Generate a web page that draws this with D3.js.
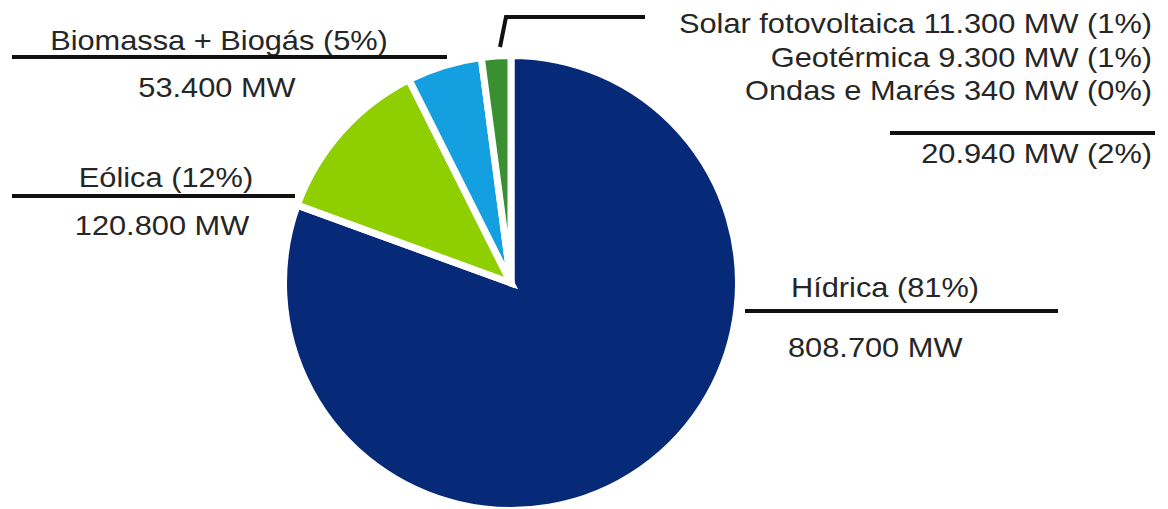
<!DOCTYPE html>
<html lang="pt">
<head>
<meta charset="utf-8">
<title>Capacidade instalada de energias renováveis</title>
<script src="https://cdn.jsdelivr.net/npm/d3@7"></script>
<style>
  html, body { margin: 0; padding: 0; background: #ffffff; }
  svg { display: block; }
  text { font-family: "Liberation Sans", Arial, Helvetica, sans-serif; fill: #262626; }
</style>
</head>
<body>
<svg id="chart" width="1168" height="509"></svg>
<script>
// Fontes renováveis: capacidade instalada (MW)
const categories = ["Hídrica", "Eólica", "Biomassa + Biogás", "Outras"];
const capacityMW = [808700, 120800, 53400, 20940];
const sliceColors = ["#072a78", "#8fcf00", "#139fe0", "#3a8f30"];

// Desagregação da fatia "Outras"
const otherSources = ["Solar fotovoltaica", "Geotérmica", "Ondas e Marés"];
const otherMW = [11300, 9300, 340];

const ptBR = d3.formatLocale({ decimal: ",", thousands: ".", grouping: [3], currency: ["", ""] });
const fmtMW = v => ptBR.format(",d")(v) + " MW";
const total = d3.sum(capacityMW);
const pct = v => "(" + Math.round(v / total * 100) + "%)";

const svg = d3.select("#chart");
const W = 1168, H = 509;
svg.append("rect").attr("width", W).attr("height", H).attr("fill", "#fff");

// Pizza
const cx = 511, cy = 283, radius = 227.5;
const pie = d3.pie().sort(null).value(d => d.value);
const arc = d3.arc().innerRadius(0).outerRadius(radius);
const slices = pie(categories.map((c, i) => ({ name: c, value: capacityMW[i], color: sliceColors[i] })));

const g = svg.append("g").attr("transform", `translate(${cx},${cy})`);
g.selectAll("path")
  .data(slices)
  .join("path")
  .attr("d", arc)
  .attr("fill", d => d.data.color)
  .attr("stroke", "#ffffff")
  .attr("stroke-width", 7)
  .attr("stroke-linejoin", "miter");

// Rótulos
const FS = 27, SX = 1.14;
function label(str, x, y, anchor) {
  svg.append("text")
    .attr("transform", `translate(${x},${y}) scale(${SX},1)`)
    .attr("text-anchor", anchor)
    .attr("font-size", FS)
    .text(str);
}
function rule(points) {
  svg.append("path")
    .attr("d", d3.line()(points))
    .attr("fill", "none")
    .attr("stroke", "#111")
    .attr("stroke-width", 4);
}

// Biomassa + Biogás
label(`${categories[2]} ${pct(capacityMW[2])}`, 219, 50, "middle");
rule([[12, 57], [447, 57]]);
label(fmtMW(capacityMW[2]), 217, 97, "middle");

// Eólica
label(`${categories[1]} ${pct(capacityMW[1])}`, 166, 187, "middle");
rule([[12, 196], [295, 196]]);
label(fmtMW(capacityMW[1]), 162, 235, "middle");

// Hídrica
label(`${categories[0]} ${pct(capacityMW[0])}`, 791, 297, "start");
rule([[745, 311], [1058, 311]]);
label(fmtMW(capacityMW[0]), 788, 357, "start");

// Outras (detalhe)
rule([[500, 47], [506, 17], [645, 17]]);
const otherBaselines = [33, 67, 100];
otherSources.forEach((s, i) => {
  label(`${s} ${fmtMW(otherMW[i])} ${pct(otherMW[i])}`, 1152, otherBaselines[i], "end");
});
rule([[890, 133], [1155, 133]]);
label(`${fmtMW(capacityMW[3])} ${pct(capacityMW[3])}`, 1152, 163, "end");
</script>
</body>
</html>
